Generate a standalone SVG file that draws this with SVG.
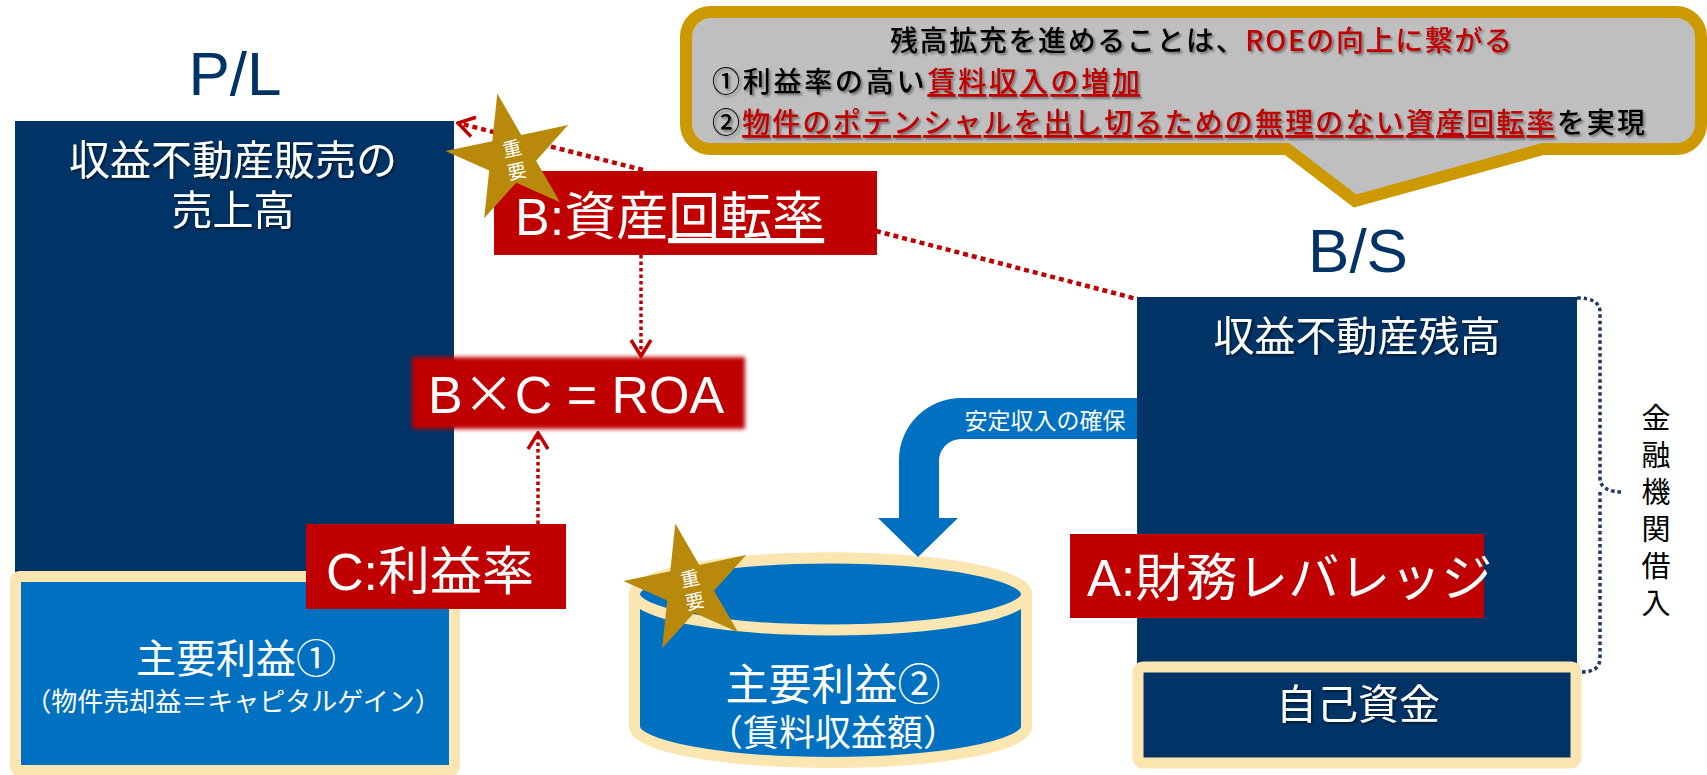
<svg xmlns="http://www.w3.org/2000/svg" width="1707" height="775" viewBox="0 0 1707 775">
<defs>
<style>
.navy{fill:#003366}
.red{fill:#C00000}
.wt{fill:#FFFFFF;font-family:"Liberation Sans","Noto Sans CJK JP",sans-serif}
.cjk{font-family:"Noto Sans CJK JP",sans-serif}
.ttl{fill:#003366;font-family:"Liberation Sans",sans-serif;font-size:62px;text-anchor:middle}
.dotR{fill:none;stroke:#C00000;stroke-width:4.5;stroke-dasharray:5 4}
.dotR2{fill:none;stroke:#C00000;stroke-width:3.5;stroke-dasharray:3.5 3}
.dotN{fill:none;stroke:#1F3864;stroke-width:3.5;stroke-dasharray:3.5 3}
.cream{stroke:#FBE6B1;stroke-width:11}
.star{fill:#B8890B}
.mid{text-anchor:middle}
</style>
<path id="starShape" d="M0,-66 L14.81,-20.39 L62.77,-20.4 L23.97,7.79 L38.79,53.4 L0,25.2 L-38.79,53.4 L-23.97,7.79 L-62.77,-20.4 L-14.81,-20.39 Z"/>
<marker id="chev" viewBox="0 0 20 24" refX="18" refY="12" markerWidth="20" markerHeight="24" orient="auto" markerUnits="userSpaceOnUse">
<path d="M2,2 L18,12 L2,22" fill="none" stroke="#C00000" stroke-width="3.5"/>
</marker>
<filter id="sh" x="-10%" y="-10%" width="120%" height="130%">
<feDropShadow dx="1.5" dy="1.5" stdDeviation="1" flood-color="#000" flood-opacity="0.55"/>
</filter>
<filter id="tsh" x="-5%" y="-10%" width="110%" height="140%">
<feDropShadow dx="2" dy="2" stdDeviation="1.2" flood-color="#000" flood-opacity="0.4"/>
</filter>
<filter id="soft" x="-5%" y="-10%" width="110%" height="120%">
<feGaussianBlur stdDeviation="2"/>
</filter>
</defs>

<rect width="1707" height="775" fill="#FFFFFF"/>

<!-- Callout -->
<g id="callout">
<path d="M711,12 H1676 A25,25 0 0 1 1701,37 V124 A25,25 0 0 1 1676,149 H1543 L1355,201 L1287,149 H711 A25,25 0 0 1 686,124 V37 A25,25 0 0 1 711,12 Z" fill="#BFBFBF" stroke="#CC9900" stroke-width="12"/>
<g class="cjk" font-size="28" font-weight="500" filter="url(#tsh)">
<text x="890" y="51" fill="#000" textLength="622" lengthAdjust="spacing">残高拡充を進めることは、<tspan fill="#C00000">ROEの向上に繋がる</tspan></text>
<text x="712" y="92" fill="#000" textLength="428" lengthAdjust="spacing">①利益率の高い<tspan fill="#C00000" text-decoration="underline">賃料収入の増加</tspan></text>
<text x="712" y="133" fill="#000" textLength="933" lengthAdjust="spacing">②<tspan fill="#C00000" text-decoration="underline">物件のポテンシャルを出し切るための無理のない資産回転率</tspan>を実現</text>
</g>
</g>

<!-- Titles -->
<text id="title-pl" class="ttl" x="235" y="95">P/L</text>
<text id="title-bs" class="ttl" x="1358" y="272">B/S</text>

<!-- P/L sales box -->
<g id="pl-sales">
<rect class="navy" x="15" y="121" width="439" height="455"/>
<g class="wt mid" font-size="41" filter="url(#sh)">
<text x="233" y="175">収益不動産販売の</text>
<text x="233" y="225">売上高</text>
</g>
</g>

<!-- Main profit 1 -->
<g id="profit1">
<rect x="15.5" y="576.5" width="439" height="194" rx="4" fill="#0070C0" class="cream"/>
<text class="wt mid" x="236" y="673" font-size="40">主要利益①</text>
<text class="wt mid" x="233" y="711" font-size="26">（物件売却益＝キャピタルゲイン）</text>
</g>

<!-- B/S balance box -->
<g id="bs-balance">
<rect class="navy" x="1137" y="297" width="440" height="366"/>
<text class="wt mid" x="1357" y="351" font-size="41" filter="url(#sh)">収益不動産残高</text>
</g>

<!-- Own capital -->
<g id="own-capital">
<rect x="1138" y="667" width="438" height="96" rx="5" class="navy cream" stroke-width="12"/>
<text class="wt mid" x="1358" y="719" font-size="41" filter="url(#sh)">自己資金</text>
</g>

<!-- Cylinder: main profit 2 -->
<g id="profit2">
<path d="M634.5,594 V726.5 A196,36 0 0 0 1026.5,726.5 V594 A196,36 0 0 0 634.5,594 Z" fill="#0070C0" class="cream"/>
<ellipse cx="830.5" cy="594" rx="196" ry="36" fill="#0070C0" class="cream"/>
<text class="wt mid" x="833" y="700" font-size="43">主要利益②</text>
<text class="wt mid" x="833" y="746" font-size="36">（賃料収益額）</text>
</g>

<!-- Connectors -->
<g id="connectors">
<line class="dotR" x1="643" y1="170" x2="458" y2="123" marker-end="url(#chev)"/>
<line class="dotR" x1="876" y1="231" x2="1137" y2="299"/>
<line class="dotR2" x1="641" y1="255" x2="641" y2="356" marker-end="url(#chev)"/>
<line class="dotR2" x1="538" y1="524" x2="538" y2="433" marker-end="url(#chev)"/>
<path class="dotN" d="M1577,298 Q1600,298 1600,312 V478 Q1600,492 1624,492 M1600,492 Q1600,506 1600,520 V658 Q1600,672 1582,672"/>
<g id="income-arrow">
<path d="M1137,398 H961 A62,62 0 0 0 899,460 V518 H878 L918,557 L958,518 H939 V461 A22,22 0 0 1 961,439 H1137 Z" fill="#0070C0"/>
<text class="wt mid" x="1045" y="429" font-size="23">安定収入の確保</text>
</g>
</g>

<!-- ROA box -->
<g id="roa">
<rect class="red" x="412" y="357" width="333" height="72" filter="url(#soft)"/>
<text class="wt" x="428" y="413" font-size="52">B<tspan class="cjk">×</tspan>C = ROA</text>
</g>

<!-- B box -->
<g id="asset-turnover">
<rect class="red" x="494" y="171" width="383" height="84"/>
<text class="wt" x="515" y="235" font-size="52">B:資産<tspan text-decoration="underline">回転率</tspan></text>
</g>

<!-- C box -->
<g id="profit-margin">
<rect class="red" x="306" y="524" width="260" height="85"/>
<text class="wt" x="326" y="590" font-size="52">C:利益率</text>
</g>

<!-- A box -->
<g id="leverage">
<rect class="red" x="1070" y="534" width="414" height="84"/>
<text class="wt" x="1087" y="596" font-size="51">A:財務レバレッジ</text>
</g>

<!-- Borrowing label -->
<text id="borrowing" class="cjk" x="1656" y="403" font-size="29" fill="#000" writing-mode="vertical-rl" letter-spacing="8">金融機関借入</text>

<!-- Stars -->
<g id="star1" transform="translate(511,158) rotate(-12)">
<use href="#starShape" class="star"/>
<g class="wt mid" font-size="19"><text x="3" y="-2">重</text><text x="3" y="21">要</text></g>
</g>
<g id="star2" transform="translate(689,588) rotate(-12)">
<use href="#starShape" class="star"/>
<g class="wt mid" font-size="19"><text x="3" y="-2">重</text><text x="3" y="21">要</text></g>
</g>
</svg>
